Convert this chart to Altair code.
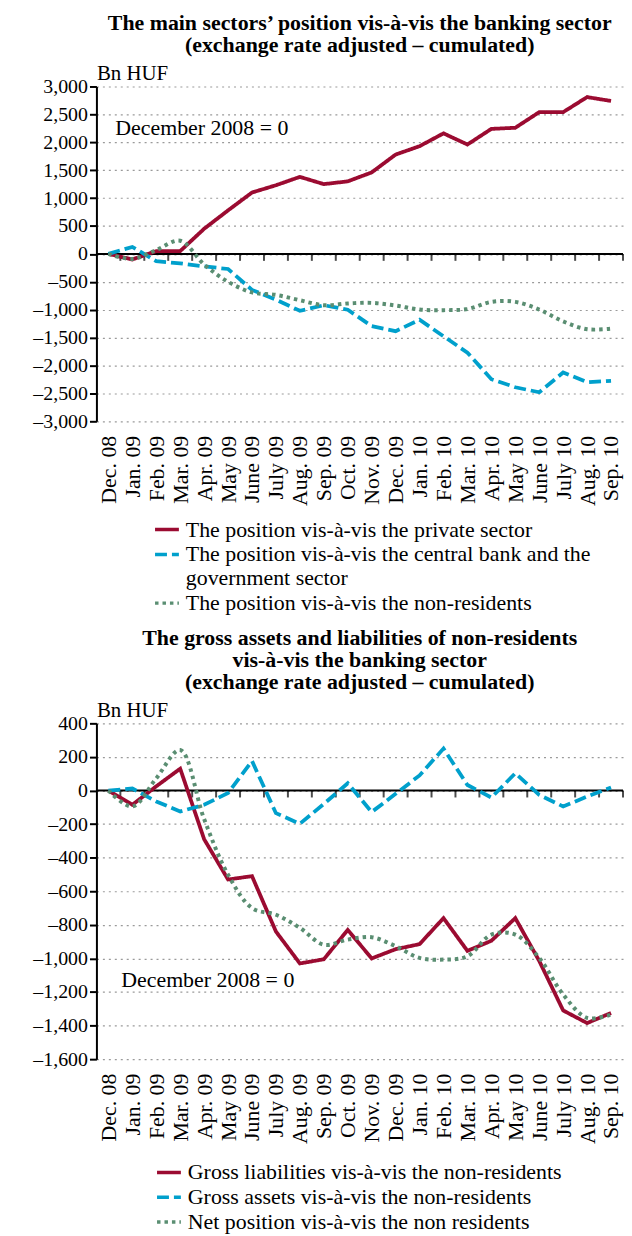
import altair as alt
import pandas as pd

FONT = "Liberation Serif"

months = ["Dec. 08", "Jan. 09", "Feb. 09", "Mar. 09", "Apr. 09", "May 09", "June 09",
          "July 09", "Aug. 09", "Sep. 09", "Oct. 09", "Nov. 09", "Dec. 09", "Jan. 10",
          "Feb. 10", "Mar. 10", "Apr. 10", "May 10", "June 10", "July 10", "Aug. 10", "Sep. 10"]

# ---- top panel ----
top_title = ["The main sectors’ position vis-à-vis the banking sector",
             "(exchange rate adjusted – cumulated)"]
top_names = ["The position vis-à-vis the private sector",
             "The position vis-à-vis the central bank and the government sector",
             "The position vis-à-vis the non-residents"]
private_sector = [0, -100, 50, 50, 450, 780, 1100, 1230, 1380, 1250, 1300, 1460, 1780,
                  1930, 2160, 1960, 2240, 2260, 2540, 2540, 2810, 2740]
cb_gov_sector = [0, 125, -130, -170, -225, -270, -645, -820, -1020, -920, -1000, -1295,
                 -1385, -1180, -1475, -1770, -2245, -2390, -2480, -2125, -2300, -2275]
non_residents = [0, -90, 70, 235, -190, -500, -690, -735, -830, -920, -888, -878, -925,
                 -998, -1008, -988, -860, -860, -998, -1210, -1350, -1340]
top_ticks = list(range(-3000, 3001, 500))

# ---- bottom panel ----
bottom_title = ["The gross assets and liabilities of non-residents",
                "vis-à-vis the banking sector",
                "(exchange rate adjusted – cumulated)"]
bottom_names = ["Gross liabilities vis-à-vis the non-residents",
                "Gross assets vis-à-vis the non-residents",
                "Net position vis-à-vis the non residents"]
gross_liabilities = [0, -85, 25, 130, -290, -530, -510, -840, -1030, -1005, -830, -1000,
                     -945, -915, -760, -955, -895, -760, -1015, -1310, -1385, -1325]
gross_assets = [0, 12, -65, -125, -85, -15, 176, -135, -198, -80, 43, -128, -20, 90, 250,
                33, -42, 103, -26, -95, -36, 18]
net_position = [0, -95, 73, 241, -170, -502, -700, -740, -818, -918, -888, -874, -927,
                -997, -1007, -987, -858, -858, -997, -1215, -1354, -1334]
bottom_ticks = list(range(-1600, 401, 200))

note_text = "December 2008 = 0"
unit_text = "Bn HUF"

colors = ["#9b0b31", "#00a0cc", "#5a8e72"]
dashes = [[1, 0], [12, 5], [3.5, 4]]

PLOT_W = 530


def panel(title, names, series, ticks, plot_h, note_x, note_y, legend_x, legend_y,
          row_pad=0, wrap=None):
    rows = []
    for name, vals in zip(names, series):
        for i, v in enumerate(vals):
            rows.append({"idx": i, "series": name, "value": v})
    df = pd.DataFrame(rows)
    n = len(months)
    xscale = alt.Scale(domain=[-0.5, n - 0.5], nice=False, zero=False)
    yscale = alt.Scale(domain=[ticks[0], ticks[-1]], nice=False, zero=False)
    month_expr = "[" + ",".join("'" + m + "'" for m in months) + "][datum.value]"
    x_axis = alt.Axis(values=list(range(n)), labelExpr=month_expr, labelAngle=270,
                      labelAlign="right", labelBaseline="middle", labelPadding=14,
                      labelFontSize=22, labelOverlap=False, labelFlush=False,
                      domain=False, ticks=False, grid=False, title=None)
    y_axis = alt.Axis(values=ticks,
                      labelExpr="(datum.value < 0 ? '–' : '') + format(abs(datum.value), ',')",
                      labelOverlap=False, labelFlush=False, labelFontSize=20,
                      grid=True, gridDash=[2, 4], gridColor="#9a9a9a", gridWidth=1.2,
                      domainColor="black", domainWidth=2, tickColor="black", tickWidth=2,
                      tickSize=7, labelPadding=2, minExtent=89, title=unit_text,
                      titleAngle=0, titleAlign="left", titleBaseline="alphabetic",
                      titleX=0, titleY=-7, titleFontWeight="normal", titleFontSize=21)
    x_enc = alt.X("idx:Q", scale=xscale, axis=x_axis)
    y_enc = alt.Y("value:Q", scale=yscale, axis=y_axis)

    legend_kw = dict(title=None, orient="none", legendX=legend_x, legendY=legend_y,
                     direction="vertical", symbolType="stroke", symbolSize=576,
                     symbolStrokeWidth=3.5, labelLimit=0, rowPadding=row_pad, labelOffset=5,
                     labelFontSize=22)
    if wrap:
        legend_kw["labelExpr"] = wrap
    legend = alt.Legend(**legend_kw)
    color = alt.Color("series:N", scale=alt.Scale(domain=names, range=colors), legend=legend)
    dash = alt.StrokeDash("series:N", scale=alt.Scale(domain=names, range=dashes), legend=legend)

    base = alt.Chart(df)
    straight = base.transform_filter(
        alt.FieldOneOfPredicate(field="series", oneOf=names[:2])
    ).mark_line(strokeWidth=3.8).encode(x=x_enc, y=y_enc, color=color, strokeDash=dash)
    smooth = base.transform_filter(
        alt.FieldEqualPredicate(field="series", equal=names[2])
    ).mark_line(strokeWidth=4, interpolate="catmull-rom").encode(
        x=x_enc, y=y_enc, color=color, strokeDash=dash)
    zero = alt.Chart(pd.DataFrame({"value": [0]})).mark_rule(
        color="black", strokeWidth=2).encode(y=y_enc)
    bounds = [i + 0.5 for i in range(n)]
    tick_marks = alt.Chart(pd.DataFrame({"idx": bounds, "value": [0] * n})).mark_tick(
        orient="vertical", size=7, thickness=2, color="black", yOffset=3.5
    ).encode(x=x_enc, y=y_enc)
    note = alt.Chart(pd.DataFrame({"note": [note_text]})).mark_text(
        align="left", baseline="middle", font=FONT, fontSize=22, color="black"
    ).encode(x=alt.value(note_x), y=alt.value(note_y), text="note:N")

    return alt.layer(zero, tick_marks, straight, smooth, note).properties(
        width=PLOT_W, height=plot_h,
        title=alt.TitleParams(text=title, anchor="middle", frame="group", font=FONT,
                              fontSize=22, fontWeight="bold", lineHeight=22, offset=6,
                              color="black"),
    )


wrap_top = ("datum.label == '" + top_names[1] + "' ? "
            "['The position vis-à-vis the central bank and the', 'government sector'] : datum.label")

top = panel(top_title, top_names, [private_sector, cb_gov_sector, non_residents], top_ticks,
            337, 19, 42, 57, 432, row_pad=0, wrap=wrap_top)
bottom = panel(bottom_title, bottom_names, [gross_liabilities, gross_assets, net_position],
               bottom_ticks, 338, 25, 258, 59, 438, row_pad=0)

chart = alt.vconcat(top, bottom, spacing=13).resolve_scale(
    color="independent", strokeDash="independent"
).properties(
    padding={"left": 0, "top": 0, "right": 0, "bottom": 0}
).configure_view(stroke=None).configure_axis(
    labelFont=FONT, labelColor="black", titleFont=FONT, titleColor="black",
).configure_legend(
    labelFont=FONT, labelColor="black",
)

chart.save("out.html", embed_options={"renderer": "svg", "actions": False})
